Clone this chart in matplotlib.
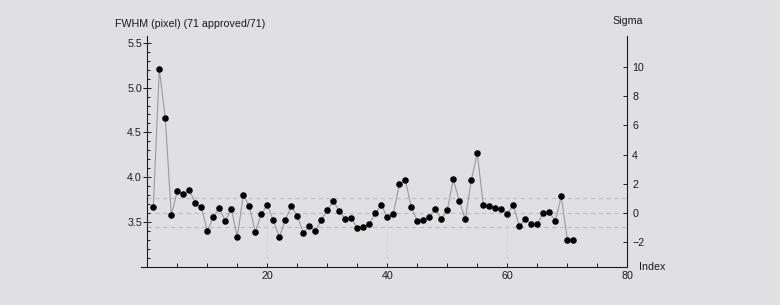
import matplotlib
matplotlib.use("Agg")
import matplotlib.pyplot as plt
from matplotlib.ticker import MultipleLocator, FixedLocator

plt.rcParams['font.family'] = ['Liberation Sans', 'DejaVu Sans']

# ---- data ----
index = list(range(1, 72))
fwhm = [3.667, 5.204, 4.658, 3.578, 3.845, 3.812, 3.856, 3.712, 3.667, 3.400,
        3.556, 3.656, 3.511, 3.645, 3.333, 3.801, 3.678, 3.389, 3.589, 3.689,
        3.522, 3.333, 3.522, 3.678, 3.567, 3.378, 3.455, 3.403, 3.522, 3.634,
        3.734, 3.622, 3.533, 3.545, 3.433, 3.444, 3.478, 3.600, 3.689, 3.556,
        3.589, 3.923, 3.968, 3.667, 3.511, 3.522, 3.556, 3.645, 3.533, 3.634,
        3.979, 3.734, 3.533, 3.968, 4.268, 3.689, 3.678, 3.656, 3.645, 3.589,
        3.689, 3.455, 3.533, 3.478, 3.478, 3.600, 3.611, 3.511, 3.790, 3.303,
        3.303]
center = 3.604      # robust centre line
sigma = 0.1624      # robust sigma
x_ticks = [20, 40, 60, 80]
y_ticks = [3.5, 4.0, 4.5, 5.0, 5.5]
sigma_ticks = [-2, 0, 2, 4, 6, 8, 10]
title_left = "FWHM (pixel) (71 approved/71)"
title_right = "Sigma"
x_name = "Index"

BG = '#e0e0e2'
INK = '#1a1a1a'
FS = 7.7

fig = plt.figure(figsize=(7.8, 3.05), dpi=100, facecolor=BG)
ax = fig.add_axes([141.3 / 780, 1 - 267 / 305, (627.3 - 141.3) / 780, (267 - 36) / 305])
ax.set_facecolor(BG)
ax.set_xlim(-1, 80)
ylo, yhi = 3.0, 5.575
ax.set_ylim(ylo, yhi)

# reference lines
for k in (-1, 0, 1):
    ax.plot([0, 80], [center + k * sigma] * 2, color='#bdbdbf', lw=0.8,
            ls=(0, (4, 3)), zorder=1)
for xv in (20, 40, 60):
    ax.plot([xv, xv], [ylo, center], color='#d2d2d4', lw=0.8,
            ls=(0, (4, 3)), zorder=1)

ax.plot(index, fwhm, color='#9a9a9a', lw=0.8, zorder=2)
ax.plot(index, fwhm, ls='none', marker='o', ms=3.7, color='black', zorder=3)

for s in ('top', 'right'):
    ax.spines[s].set_visible(False)
ax.spines['left'].set_position(('data', 0))
for s in ('left', 'bottom'):
    ax.spines[s].set_color(INK)
    ax.spines[s].set_linewidth(0.8)

ax.xaxis.set_major_locator(FixedLocator(x_ticks))
ax.xaxis.set_minor_locator(MultipleLocator(5))
ax.yaxis.set_major_locator(FixedLocator(y_ticks))
ax.yaxis.set_minor_locator(MultipleLocator(0.1))
ax.set_yticklabels([f"{v:.1f}" for v in y_ticks])
ax.tick_params(axis='x', which='both', direction='in', length=3, width=0.7,
               colors=INK, labelsize=FS, pad=3)
ax.tick_params(axis='y', which='major', direction='inout', length=6, width=0.7,
               colors=INK, labelsize=FS, pad=0.8)
ax.tick_params(axis='y', which='minor', direction='in', length=2.4, width=0.7,
               colors=INK)

ax2 = ax.twinx()
ax2.set_ylim((ylo - center) / sigma, (yhi - center) / sigma)
for s in ('top', 'left', 'bottom'):
    ax2.spines[s].set_visible(False)
ax2.spines['right'].set_color(INK)
ax2.spines['right'].set_linewidth(0.8)
ax2.yaxis.set_major_locator(FixedLocator(sigma_ticks))
ax2.tick_params(axis='y', which='major', direction='in', length=3, width=0.7,
                colors=INK, labelsize=FS, pad=3.5)

fig.text(190 / 780, 1 - 24 / 305, title_left, ha='center', va='center',
         fontsize=FS, color=INK)
fig.text(627.5 / 780, 1 - 20.5 / 305, title_right, ha='center', va='center',
         fontsize=FS, color=INK)
fig.text(639 / 780, 1 - 267.5 / 305, x_name, ha='left', va='center',
         fontsize=FS, color=INK)

fig.savefig('out.png', dpi=100, facecolor=BG)
